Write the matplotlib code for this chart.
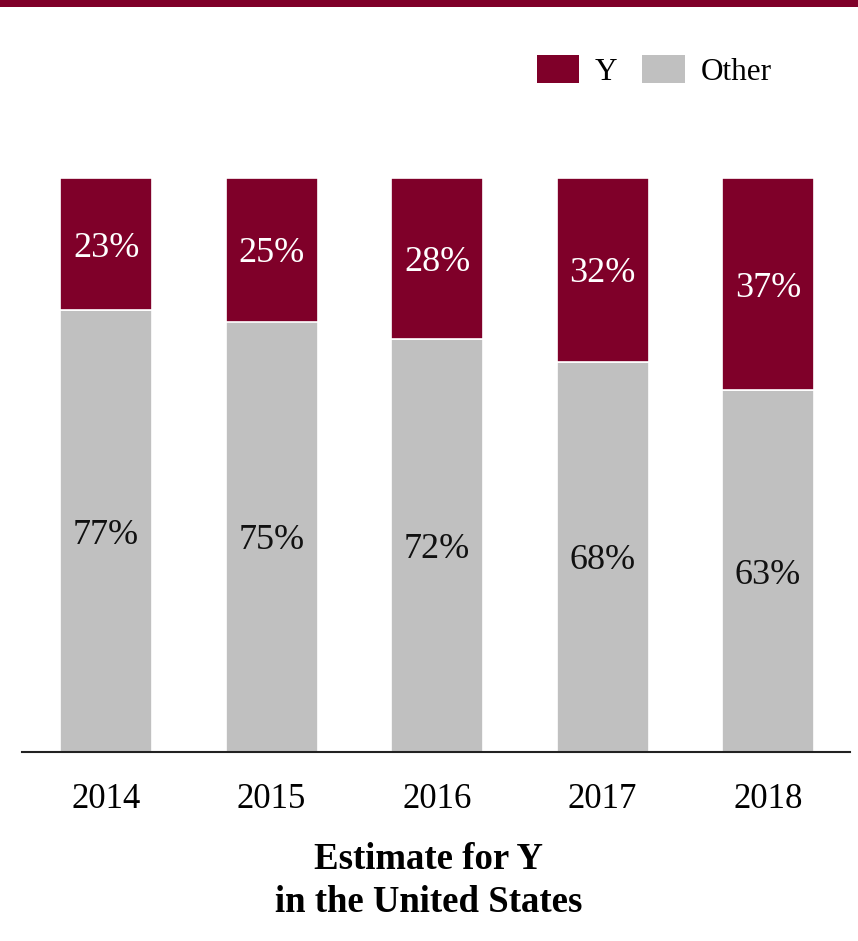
import matplotlib
matplotlib.use('Agg')
import matplotlib.pyplot as plt
from matplotlib.patches import Patch, Rectangle

years = ["2014", "2015", "2016", "2017", "2018"]
share_y = [23, 25, 28, 32, 37]
share_other = [77, 75, 72, 68, 63]

MAROON = "#7f0029"
GRAY = "#c0c0c0"

plt.rcParams['font.family'] = ['Liberation Serif', 'DejaVu Serif']

fig = plt.figure(figsize=(8.58, 9.41), dpi=100)
ax = fig.add_axes([22 / 858, 189 / 941, 828 / 858, 574 / 941])

x = range(len(years))
ax.bar(x, share_other, width=0.555, color=GRAY, edgecolor="white", linewidth=1.2)
ax.bar(x, share_y, bottom=share_other, width=0.555, color=MAROON,
       edgecolor="white", linewidth=1.2)

# percentages in the middle of each segment
for i in x:
    ax.text(i, share_other[i] / 2, f"{share_other[i]}%", ha="center",
            va="center_baseline", fontsize=26, color="#111111")
    ax.text(i, share_other[i] + share_y[i] / 2, f"{share_y[i]}%", ha="center",
            va="center_baseline", fontsize=26, color="white")

ax.set_xlim(-0.508, 4.495)
ax.set_ylim(0, 100)
ax.set_xticks(list(x))
ax.set_xticklabels(years, fontsize=25)
ax.tick_params(axis="x", length=0, pad=22)
ax.set_yticks([])
for side in ("top", "right", "left"):
    ax.spines[side].set_visible(False)
ax.spines["bottom"].set_linewidth(1.5)
ax.spines["bottom"].set_color("#222222")

fig.text(0.5, 1 - 881 / 941, "Estimate for Y\nin the United States", ha="center",
         va="center", fontsize=26.5, fontweight="bold", linespacing=1.3)

handles = [Patch(facecolor=MAROON, label="Y"), Patch(facecolor=GRAY, label="Other")]
fig.legend(handles=handles, loc="center right", bbox_to_anchor=(787 / 858, 1 - 71 / 941),
           ncol=2, frameon=False, fontsize=22.5, handlelength=1.35, handleheight=1.0,
           handletextpad=0.5, columnspacing=0.8, borderpad=0)

# maroon band along the top edge
fig.patches.append(Rectangle((0, 1 - 7 / 941), 1, 7 / 941, transform=fig.transFigure,
                             facecolor=MAROON, edgecolor="none"))

fig.savefig("out.png", dpi=100)
